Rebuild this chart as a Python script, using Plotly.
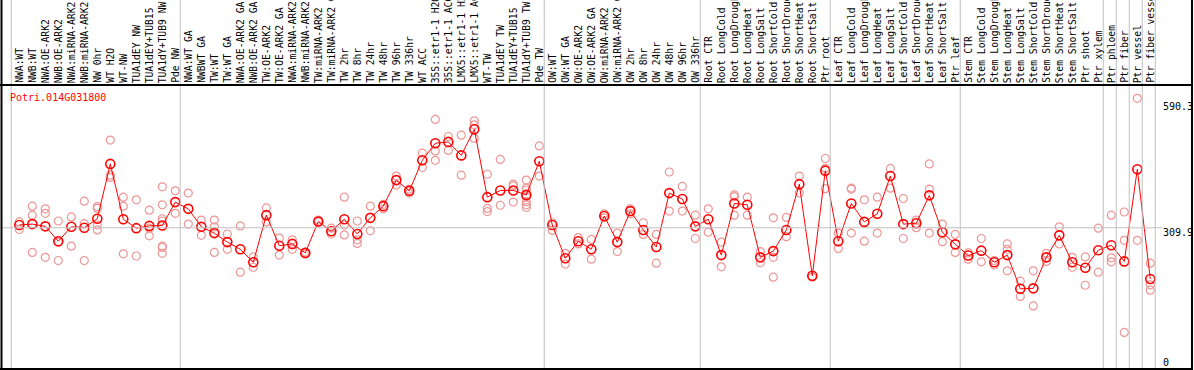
import plotly.graph_objects as go

title = "Potri.014G031800"

labels = [
    "NWA:WT", "NWB:WT", "NWA:OE-ARK2", "NWB:OE-ARK2", "NWA:miRNA-ARK2", "NWB:miRNA-ARK2",
    "NW 0hr", "WT H2O", "WT-NW", "TUA1dEY NW", "TUA1dEY+TUB15", "TUA1dY+TUB9 NW", "Pde NW",
    "NWA:WT GA", "NWBWT GA", "TW:WT", "TW:WT GA", "NWA:OE-ARK2 GA", "NWB:OE-ARK2 GA",
    "TW:OE-ARK2", "TW:OE-ARK2 GA", "NWA:miRNA-ARK2 GA", "NWB:miRNA-ARK2 GA", "TW:miRNA-ARK2",
    "TW:miRNA-ARK2 GA", "TW 2hr", "TW 8hr", "TW 24hr", "TW 48hr", "TW 96hr", "TW 336hr",
    "WT ACC", "35S::etr1-1 H2O", "35S::etr1-1 ACC", "LMX5::etr1-1 H2O", "LMX5::etr1-1 ACC",
    "WT-TW", "TUA1dEY TW", "TUA1dEY+TUB15", "TUA1dY+TUB9 TW", "Pde TW",
    "OW:WT", "OW:WT GA", "OW:OE-ARK2", "OW:OE-ARK2 GA", "OW:miRNA-ARK2", "OW:miRNA-ARK2 GA",
    "OW 2hr", "OW 8hr", "OW 24hr", "OW 48hr", "OW 96hr", "OW 336hr",
    "Root CTR", "Root LongCold", "Root LongDrought", "Root LongHeat", "Root LongSalt",
    "Root ShortCold", "Root ShortDrought", "Root ShortHeat", "Root ShortSalt", "Ptr root",
    "Leaf CTR", "Leaf LongCold", "Leaf LongDrought", "Leaf LongHeat", "Leaf LongSalt",
    "Leaf ShortCold", "Leaf ShortDrought", "Leaf ShortHeat", "Leaf ShortSalt", "Ptr leaf",
    "Stem CTR", "Stem LongCold", "Stem LongDrought", "Stem LongHeat", "Stem LongSalt",
    "Stem ShortCold", "Stem ShortDrought", "Stem ShortHeat", "Stem ShortSalt", "Ptr shoot",
    "Ptr xylem", "Ptr phloem", "Ptr fiber", "Ptr vessel", "Ptr fiber vessel",
]

group_sizes = [13, 28, 12, 10, 10, 11, 1, 1, 1, 1]

means = [316, 318, 313, 280, 312, 310, 330, 452, 329, 309, 314, 315, 367,
         352, 312, 298, 278, 262, 233, 338, 270, 274, 254, 324, 302, 329, 296, 332,
         358, 416, 392, 460, 498, 501, 471, 529, 378, 393, 393, 383, 458,
         316, 242, 280, 262, 336, 278, 347, 305, 267, 387, 374, 313,
         329, 249, 364, 361, 244, 258, 305, 407, 203, 437,
         280, 364, 323, 341, 425, 318, 320, 382, 300, 273,
         248, 259, 233, 249, 174, 175, 244, 293, 233, 221, 260,
         271, 235, 440, 196]

replicates = [
    [323, 306], [358, 338, 255], [352, 342, 244], [325, 237, 278], [334, 269],
    [369, 319, 237], [357, 353, 316, 305], [505, 427, 422], [378, 358, 252], [372, 247],
    [349, 309, 292], [401, 361, 330, 325, 269, 266, 253], [392, 342],
    [387, 318], [327, 293], [327, 312, 255], [296, 262], [314, 211], [245, 222],
    [354, 323], [287, 249], [283, 262], [256, 252], [327, 323], [309, 296],
    [378, 316, 294], [325, 283, 275], [358, 303], [362, 352], [425, 405],
    [396, 387], [476, 444], [551, 481, 460], [513, 482], [516, 427], [548, 539, 509],
    [429, 353, 346], [462, 360], [407, 403, 367], [416, 398, 394, 379, 368, 361, 355],
    [492, 425],
    [321, 304], [253, 229], [288, 274], [284, 240], [341, 332], [298, 257],
    [352, 341], [321, 295], [295, 231], [434, 347], [402, 347], [338, 286],
    [352, 300], [278, 223], [383, 379, 338], [378, 338], [257, 232], [332, 244, 200],
    [333, 290], [425, 387], [200], [464, 442, 397],
    [298, 264], [398, 396, 298], [372, 280], [378, 298], [442, 398], [375, 286],
    [327, 310], [452, 396, 298], [318, 279], [295, 255],
    [254, 240], [286, 234], [237, 227], [274, 262, 214], [191, 157], [214, 136],
    [253, 235], [312, 274], [244, 222], [245, 182], [309, 211],
    [338, 243, 234], [345, 282, 77], [598, 282], [231, 183, 171],
]

axis_labels = ["590.3", "309.9", "0"]
axis_values = [590.3, 309.9, 0]

W, H = 1194, 370
# pixel geometry helpers
x0_px, dx_px = 19.3, 13.0
y0_px, px_per_unit = 367.0, 0.4493

def px_x(p):
    return p / W

def px_y(p):
    return 1 - p / H

xs = list(range(len(labels)))
rx, ry = [], []
for i, reps in enumerate(replicates):
    for v in reps:
        rx.append(i)
        ry.append(v)

fig = go.Figure()
fig.add_trace(go.Scatter(
    x=rx, y=ry, mode="markers",
    marker=dict(symbol="circle-open", size=8, color="rgb(238,150,150)", line=dict(width=1.2)),
    hoverinfo="skip", showlegend=False, cliponaxis=False,
))
fig.add_trace(go.Scatter(
    x=xs, y=means, mode="lines+markers",
    line=dict(color="#ff0000", width=1),
    marker=dict(symbol="circle-open", size=9, color="#ff0000", line=dict(width=1.6)),
    showlegend=False,
))

shapes = []
# group boundary grid lines
bounds = [0]
for g in group_sizes:
    bounds.append(bounds[-1] + g)
for b in bounds:
    shapes.append(dict(type="line", xref="x", yref="paper", x0=b - 0.62, x1=b - 0.62,
                       y0=px_y(369), y1=1, line=dict(color="#c0c0c0", width=1)))
# horizontal reference line
shapes.append(dict(type="line", xref="paper", yref="y", x0=0, x1=px_x(1162),
                   y0=axis_values[1], y1=axis_values[1], line=dict(color="#c0c0c0", width=1)))
# frame
frame = dict(color="black", width=2)
shapes.append(dict(type="line", xref="paper", yref="paper", x0=px_x(1.5), x1=px_x(1.5), y0=px_y(369.5), y1=1, line=frame))
shapes.append(dict(type="line", xref="paper", yref="paper", x0=px_x(1192), x1=px_x(1192), y0=px_y(369.5), y1=1, line=frame))
shapes.append(dict(type="line", xref="paper", yref="paper", x0=0, x1=px_x(1193), y0=px_y(85), y1=px_y(85), line=frame))
shapes.append(dict(type="line", xref="paper", yref="paper", x0=0, x1=px_x(1193), y0=px_y(369), y1=px_y(369), line=frame))

font = dict(family="DejaVu Sans Mono", size=9.7, color="black")
annotations = []
for i, lab in enumerate(labels):
    annotations.append(dict(x=i, y=px_y(84), xref="x", yref="paper", text=lab, textangle=-90,
                            xanchor="center", yanchor="bottom", showarrow=False, font=font,
                            borderpad=0))
annotations.append(dict(x=px_x(9), y=px_y(97), xref="paper", yref="paper", text=title,
                        xanchor="left", yanchor="middle", showarrow=False,
                        font=dict(family="DejaVu Sans Mono", size=10, color="#ff0000"), borderpad=0))
for lab, v, shift in zip(axis_labels, axis_values, [-5, -5, 5]):
    annotations.append(dict(x=px_x(1162), y=v, xref="paper", yref="y", text=lab,
                            xanchor="left", yanchor="middle", yshift=shift, showarrow=False,
                            font=dict(family="DejaVu Sans Mono", size=10, color="black"),
                            borderpad=0))

fig.update_layout(
    width=W, height=H, autosize=False,
    margin=dict(l=0, r=0, t=0, b=0, pad=0),
    paper_bgcolor="white", plot_bgcolor="white",
    xaxis=dict(range=[-x0_px / dx_px, (W - x0_px) / dx_px], visible=False, showgrid=False, zeroline=False),
    yaxis=dict(range=[-(H - y0_px) / px_per_unit, y0_px / px_per_unit], visible=False, showgrid=False, zeroline=False),
    shapes=shapes, annotations=annotations,
)

fig.write_html("out.html", config={"displayModeBar": False},
               post_script="document.body.style.margin='0';document.body.style.overflow='hidden';")
